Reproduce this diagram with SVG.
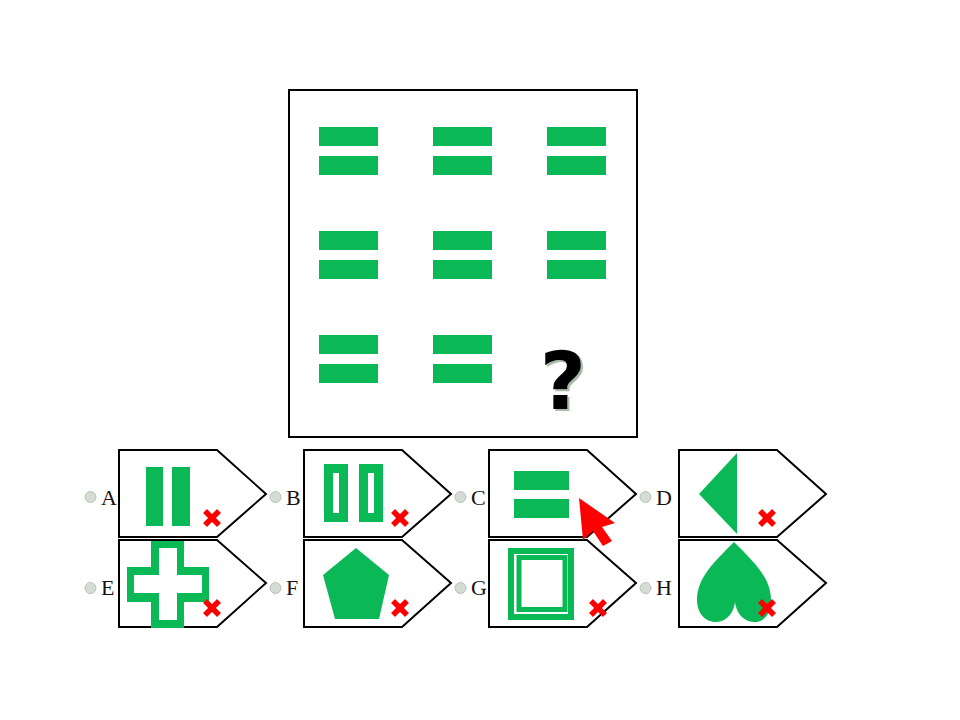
<svg xmlns="http://www.w3.org/2000/svg" width="960" height="720" viewBox="0 0 960 720">
<defs>
<style>
.g{fill:#0ab856}
.w{fill:#fff}
.tag{fill:#fff;stroke:#000;stroke-width:2}
.lbl{font-family:"Liberation Serif",serif;font-size:22px;fill:#1a1010}
.radio{fill:#d4dcd4;stroke:#b8c4b8;stroke-width:1}
.x{stroke:#f00;stroke-width:5.5;stroke-linecap:butt}
</style>
<filter id="sh" x="-20%" y="-20%" width="150%" height="150%">
<feDropShadow dx="2" dy="2" stdDeviation="0.6" flood-color="#a8bca8" flood-opacity="1"/>
</filter>
<g id="xm"><line class="x" x1="-7" y1="-7" x2="7" y2="7"/><line class="x" x1="-7" y1="7" x2="7" y2="-7"/></g>
<g id="bars"><rect class="g" x="0" y="0" width="59" height="19"/><rect class="g" x="0" y="29" width="59" height="19"/></g>
</defs>
<rect width="960" height="720" fill="#fff"/>
<g id="matrix">
<rect x="289" y="90" width="348" height="347" fill="#fff" stroke="#000" stroke-width="2"/>
<use href="#bars" x="319" y="127"/><use href="#bars" x="433" y="127"/><use href="#bars" x="547" y="127"/>
<use href="#bars" x="319" y="231"/><use href="#bars" x="433" y="231"/><use href="#bars" x="547" y="231"/>
<use href="#bars" x="319" y="335"/><use href="#bars" x="433" y="335"/>
<text x="563" y="409" text-anchor="middle" font-family="'DejaVu Sans',sans-serif" font-weight="bold" font-size="80" fill="#000" filter="url(#sh)">?</text>
</g>
<g id="optA">
<circle class="radio" cx="90.5" cy="497" r="5.5"/><text class="lbl" x="101" y="505">A</text>
<polygon class="tag" points="119,450 217,450 266,494 217,537 119,537"/>
<rect class="g" x="146" y="467" width="17" height="59"/><rect class="g" x="172" y="467" width="18" height="59"/>
<use href="#xm" x="212" y="518"/>
</g>
<g id="optB">
<circle class="radio" cx="275.5" cy="497" r="5.5"/><text class="lbl" x="286" y="505">B</text>
<polygon class="tag" points="304,450 402,450 451,494 402,537 304,537"/>
<rect class="g" x="324" y="464" width="24" height="58"/><rect class="w" x="333" y="473" width="6" height="40"/>
<rect class="g" x="359" y="464" width="24" height="58"/><rect class="w" x="368" y="473" width="6" height="40"/>
<use href="#xm" x="400" y="518"/>
</g>
<g id="optC">
<circle class="radio" cx="460.5" cy="497" r="5.5"/><text class="lbl" x="471" y="505">C</text>
<polygon class="tag" points="489,450 587,450 636,494 587,537 489,537"/>
<rect class="g" x="514" y="471" width="55" height="19"/><rect class="g" x="514" y="499" width="55" height="19"/>
</g>
<g id="optD">
<circle class="radio" cx="645.5" cy="497" r="5.5"/><text class="lbl" x="656" y="505">D</text>
<polygon class="tag" points="679,450 777,450 826,494 777,537 679,537"/>
<polygon class="g" points="737,453 699,494 737,534"/>
<use href="#xm" x="767" y="518"/>
</g>
<g id="optE">
<circle class="radio" cx="90.5" cy="588" r="5.5"/><text class="lbl" x="101" y="595">E</text>
<polygon class="tag" points="119,540 217,540 266,583 217,627 119,627"/>
<polygon class="g" points="151,541 184,541 184,567 209,567 209,602 184,602 184,628 151,628 151,602 127,602 127,567 151,567"/>
<polygon class="w" points="159,548 177,548 177,575 202,575 202,593 177,593 177,620 159,620 159,593 134,593 134,575 159,575"/>
<use href="#xm" x="212" y="608"/>
</g>
<g id="optF">
<circle class="radio" cx="275.5" cy="588" r="5.5"/><text class="lbl" x="286" y="595">F</text>
<polygon class="tag" points="304,540 402,540 451,583 402,627 304,627"/>
<polygon class="g" points="356,548 389,575 379,619 335,619 323,575"/>
<use href="#xm" x="400" y="608"/>
</g>
<g id="optG">
<circle class="radio" cx="460.5" cy="588" r="5.5"/><text class="lbl" x="471" y="595">G</text>
<polygon class="tag" points="489,540 587,540 636,583 587,627 489,627"/>
<rect x="511" y="551" width="60" height="66" fill="none" stroke="#0ab856" stroke-width="6"/>
<rect x="519" y="557.5" width="46" height="52" fill="none" stroke="#0ab856" stroke-width="5"/>
<use href="#xm" x="598" y="608"/>
</g>
<g id="optH">
<circle class="radio" cx="645.5" cy="588" r="5.5"/><text class="lbl" x="656" y="595">H</text>
<polygon class="tag" points="679,540 777,540 826,583 777,627 679,627"/>
<path class="g" d="M734,542 C714,562 697,578 697,600 C697,613 705,622 716,622 C727,622 734,612 735,602 C736,612 743,622 754,622 C765,622 771,613 771,600 C771,578 754,562 734,542 Z"/>
<use href="#xm" x="767" y="608"/>
</g>
<g id="cursor">
<polygon points="579,498 615,523 602,527 612,541 603,546 593,531 583,540" fill="#f00"/>
</g>
</svg>
